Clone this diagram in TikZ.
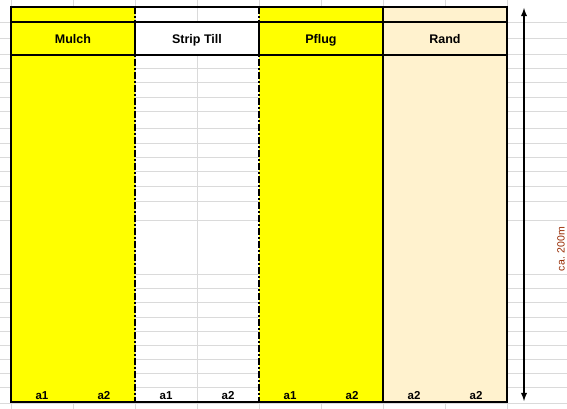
\documentclass[tikz,border=0pt]{standalone}
\usepackage{fontspec}
\setmainfont{Liberation Sans}
\usepackage{xcolor}
\definecolor{gridgray}{RGB}{218,218,218}
\definecolor{plotyellow}{RGB}{255,255,0}
\definecolor{randbeige}{RGB}{255,242,206}
\definecolor{labelred}{RGB}{150,40,0}
\usepackage{tikz}
\usetikzlibrary{arrows, positioning}

\begin{document}
\begin{tikzpicture}[x=1pt, y=-1pt,
	headcell/.style={draw=black, line width=2.2pt, minimum width=124pt, minimum height=33pt, inner sep=0pt, text height=10pt, text depth=0.5pt, font=\fontsize{12.5}{14}\selectfont\bfseries},
	plotlabel/.style={inner sep=0pt, font=\fontsize{11.5}{13}\selectfont\bfseries},
	thickborder/.style={line width=2.5pt},
	dashdot/.style={line width=2pt, dash pattern=on 7pt off 2pt on 2pt off 2pt}]

\useasboundingbox (0,0) rectangle (567,409);

\def \xcol{62}
\def \xtop{7}
\def \xbot{402}

\foreach \y in {23, 39, 55, 69, 83, 98, 112, 128, 143, 157, 171, 186, 201, 220, 274, 288, 302, 317, 331, 345, 359, 373, 387, 403} {
	\draw[gridgray, line width=1pt] (0,\y) -- (567,\y); % row line
}
\foreach \x in {11, 73, ..., 507} {
	\draw[gridgray, line width=1pt] (\x,0) -- (\x,409); % column line
}

\fill[plotyellow] (11,\xtop)  rectangle (135,\xbot); % Mulch
\fill[plotyellow] (259,\xtop) rectangle (383,\xbot); % Pflug
\fill[randbeige]  (383,\xtop) rectangle (507,\xbot); % Rand

\draw[dashdot] (135,\xtop) -- (135,\xbot);
\draw[dashdot] (259,\xtop) -- (259,\xbot);
\draw[thickborder] (383,\xtop) -- (383,\xbot);

\node[headcell, fill=plotyellow] (mulch)      at (73,38.5)  {Mulch};
\node[headcell, fill=white]      (strip till) at (197,38.5) {Strip Till};
\node[headcell, fill=plotyellow] (pflug)      at (321,38.5) {Pflug};
\node[headcell, fill=randbeige]  (rand)       at (445,38.5) {Rand};

\draw[thickborder] (11,\xtop) rectangle (507,\xbot); % outer border

\foreach \lbl [count=\i from 0] in {a1, a2, a1, a2, a1, a2, a2, a2} {
	\node[plotlabel, anchor=base] (label \i) at (42+\xcol*\i, 399) {\lbl};
}

\coordinate (length top) at (524,8);
\coordinate (length bottom) at (524,401);
\draw[<->, >=latex, line width=1.8pt] (length top) -- (length bottom);
\node[rotate=90, text=labelred, inner sep=0pt, font=\fontsize{10.5}{12}\selectfont] (length label) at (561,249) {ca. 200m};

\end{tikzpicture}
\end{document}
